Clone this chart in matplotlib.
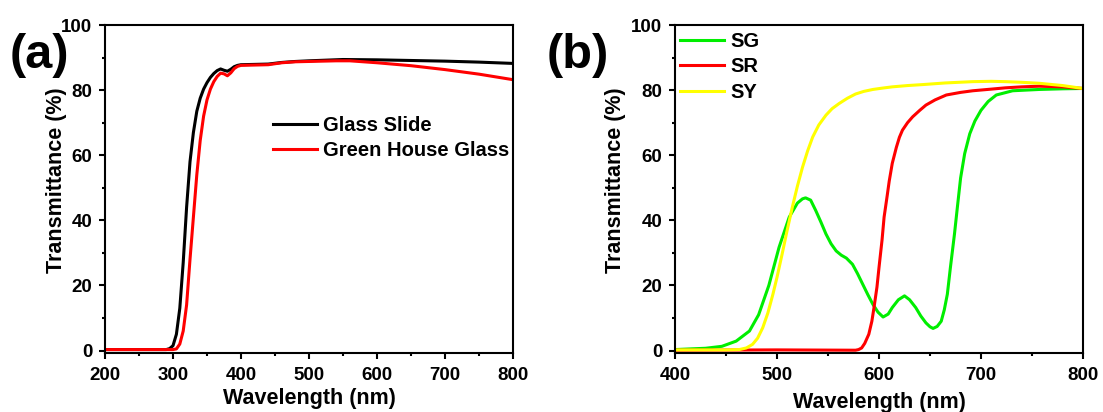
import numpy as np
import matplotlib
matplotlib.use('Agg')
import matplotlib.pyplot as plt
from matplotlib.ticker import MultipleLocator

# ---- panel (a): glass slide vs green house glass ----
wl_slide = [200, 290, 295, 300, 305, 310, 315, 320, 325, 330, 335, 340, 345, 350,
            355, 360, 365, 370, 375, 380, 385, 390, 395, 400, 420, 440, 460, 480,
            500, 550, 600, 650, 700, 750, 800]
t_slide = [0.3, 0.3, 0.6, 1.5, 5, 13, 27, 44, 58, 67, 73.5, 77.5, 80.3, 82.3,
           83.9, 85.1, 86, 86.5, 86.1, 85.8, 86.4, 87.2, 87.6, 87.8, 87.9, 88, 88.5, 88.8,
           89, 89.4, 89.3, 89.1, 88.9, 88.6, 88.2]

wl_green = [200, 300, 305, 310, 315, 320, 325, 330, 335, 340, 345, 350, 355, 360,
            365, 370, 375, 380, 385, 390, 395, 400, 420, 440, 460, 480, 500, 540,
            560, 600, 650, 700, 750, 800]
t_green = [0.3, 0.3, 0.5, 2, 6, 14, 28, 41, 54, 64.5, 72, 77, 80.3, 82.6,
           84.2, 85.2, 85, 84.4, 85.3, 86.6, 87.3, 87.6, 87.7, 87.8, 88.4, 88.7, 88.8, 89,
           89, 88.4, 87.5, 86.3, 84.9, 83.2]

# ---- panel (b): SG / SR / SY films ----
wl_sg = [400, 430, 446, 460, 473, 482, 492, 502, 512, 520, 525, 528, 533, 538, 543,
         548, 553, 558, 563, 568, 574, 579, 584, 589, 594, 599, 604, 609, 613, 619,
         625, 630, 636, 641, 646, 650, 653, 657, 661, 664, 667, 670, 674, 677, 680,
         684, 689, 694, 700, 707, 715, 731, 757, 780, 800]
t_sg = [0.3, 0.7, 1.3, 2.9, 6, 11, 20, 31.7, 41, 45.3, 46.6, 46.9, 46.2, 43, 39.5,
        35.8, 32.8, 30.6, 29.3, 28.4, 26.5, 23.6, 20.4, 17.2, 14.2, 11.8, 10.3, 11.2, 13.2, 15.6,
        16.8, 15.6, 13.2, 10.6, 8.5, 7.3, 6.8, 7.4, 9, 12.5, 17.3, 25.5, 35.8, 44.5, 53,
        60.5, 66.6, 70.5, 73.8, 76.5, 78.5, 79.8, 80.2, 80.4, 80.5]

wl_sr = [400, 500, 577, 580, 583, 586, 590, 593, 595, 598, 600, 603, 605, 608, 610,
         613, 617, 620, 623, 628, 633, 640, 646, 655, 666, 680, 692, 710, 724, 740,
         757, 780, 800]
t_sr = [0.1, 0.2, 0.1, 0.3, 0.8, 2.2, 5, 9, 13, 19.5, 25.5, 34, 41, 47.5, 52,
        57.5, 62.4, 65.5, 67.7, 70, 71.8, 73.8, 75.4, 77, 78.5, 79.3, 79.8, 80.3, 80.7, 81,
        81.2, 81, 80.5]

wl_sy = [400, 450, 463, 470, 476, 481, 486, 491, 496, 500, 505, 510, 515, 520, 525,
         530, 535, 541, 548, 554, 561, 569, 577, 585, 594, 603, 613, 628, 643, 665,
         692, 710, 724, 740, 757, 780, 800]
t_sy = [0.2, 0.2, 0.3, 0.8, 1.9, 3.8, 7, 11.5, 17.3, 22.5, 29.6, 37, 44, 50.5, 56.3,
        61.3, 65.6, 69.3, 72.3, 74.3, 75.9, 77.5, 78.8, 79.6, 80.2, 80.6, 81, 81.4, 81.7, 82.2,
        82.6, 82.7, 82.6, 82.4, 82.1, 81.4, 80.5]

plt.rcParams['font.family'] = ['Liberation Sans', 'DejaVu Sans']
plt.rcParams['font.weight'] = 'bold'
plt.rcParams['axes.labelweight'] = 'bold'
plt.rcParams['font.size'] = 13.5
plt.rcParams['axes.linewidth'] = 1.5

fig = plt.figure(figsize=(11.03, 4.12), dpi=100)
ax_a = fig.add_axes([105 / 1103, 1 - 352.5 / 412, 408 / 1103, 327.5 / 412])
ax_b = fig.add_axes([675 / 1103, 1 - 352.5 / 412, 408 / 1103, 327.5 / 412])

lw = 2.2
ax_a.plot(wl_slide, t_slide, color='black', lw=lw, label='Glass Slide')
ax_a.plot(wl_green, t_green, color='#ff0000', lw=lw, label='Green House Glass')

ax_b.plot(wl_sg, t_sg, color='#00ee00', lw=lw, label='SG')
ax_b.plot(wl_sr, t_sr, color='#ff0000', lw=lw, label='SR')
ax_b.plot(wl_sy, t_sy, color='#ffff00', lw=lw, label='SY')

ax_a.set_xlim(200, 800)
ax_b.set_xlim(400, 800)

for ax in (ax_a, ax_b):
    ax.set_ylim(-0.6, 100)
    ax.xaxis.set_major_locator(MultipleLocator(100))
    ax.xaxis.set_minor_locator(MultipleLocator(50))
    ax.yaxis.set_major_locator(MultipleLocator(20))
    ax.yaxis.set_minor_locator(MultipleLocator(10))
    ax.tick_params(which='major', direction='out', length=4, width=1.5, labelsize=13.5)
    ax.tick_params(which='minor', direction='out', length=2, width=1.5)
    ax.tick_params(axis='x', pad=6.5)
    ax.tick_params(axis='y', pad=5)
    ax.set_xlabel('Wavelength (nm)', fontsize=15.5)
    ax.set_ylabel('Transmittance (%)', fontsize=15.5)
    ax.xaxis.label.set_va('center')

ax_a.xaxis.set_label_coords(0.5, -0.139)
ax_b.xaxis.set_label_coords(0.5, -0.154)
ax_a.yaxis.set_label_coords(-0.094, 0.526)
ax_b.yaxis.set_label_coords(-0.119, 0.526)

leg_kw = dict(loc='upper left', frameon=False, borderpad=0, borderaxespad=0,
              handlelength=2.18, handletextpad=0.33, labelspacing=0.31, fontsize=14.5)
ax_a.legend(bbox_to_anchor=(0.411, 0.723), **leg_kw)
ax_b.legend(bbox_to_anchor=(0.0123, 0.978), **leg_kw)

# panel letters
fig.text(39 / 1103, 1 - 55 / 412, '(a)', fontsize=35, fontweight='bold', ha='center', va='center')
fig.text(578 / 1103, 1 - 55 / 412, '(b)', fontsize=35, fontweight='bold', ha='center', va='center')

fig.savefig('out.png', dpi=100)
